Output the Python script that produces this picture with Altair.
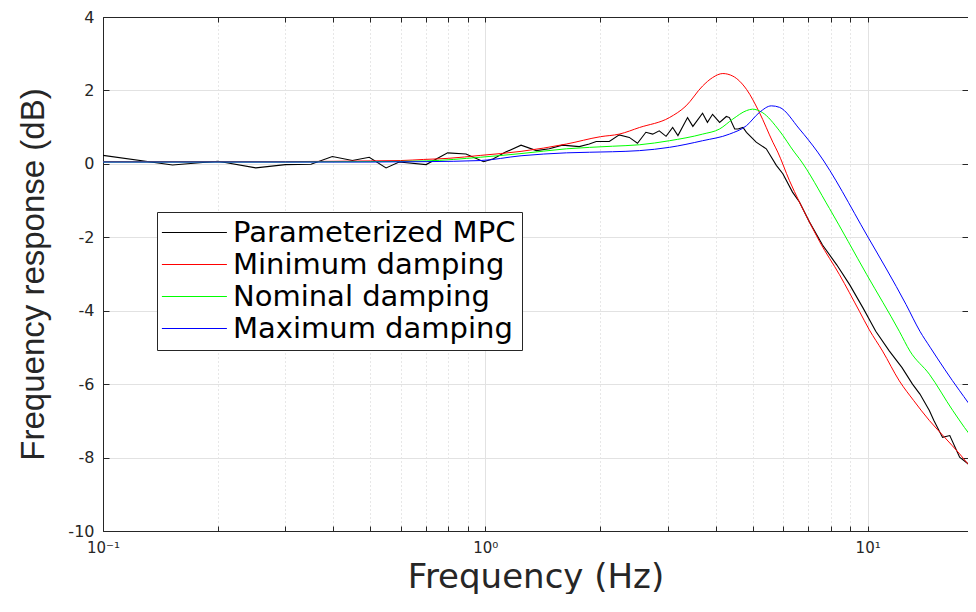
import altair as alt
import pandas as pd

# ---- data ----
series_names = ["Parameterized MPC", "Minimum damping", "Nominal damping", "Maximum damping"]
series_colors = ["#000000", "#ff0000", "#00ff00", "#0000ff"]

f_mpc = [0.1, 0.152, 0.2, 0.251, 0.30, 0.35, 0.398, 0.449, 0.497, 0.55, 0.595, 0.70, 0.797, 0.89,
         0.99, 1.05, 1.13, 1.24, 1.36, 1.47, 1.59, 1.76, 1.87, 1.95, 2.11, 2.24, 2.38, 2.50, 2.63,
         2.74, 2.85, 2.97, 3.09, 3.19, 3.38, 3.49, 3.70, 3.81, 3.93, 4.10, 4.27, 4.35, 4.49, 4.58,
         4.72, 4.82, 5.11, 5.43, 5.77, 6.0, 6.36, 6.63, 7.04, 7.62, 8.30, 8.97, 9.73, 10.5, 11.4,
         12.3, 13.1, 13.7, 14.5, 14.9, 15.7, 16.4, 17.4, 18.3, 19.2, 19.6]
db_mpc = [0.23, -0.03, 0.07, -0.11, -0.02, -0.01, 0.20, 0.09, 0.18, -0.11, 0.05, -0.02, 0.30, 0.27,
          0.06, 0.14, 0.32, 0.51, 0.36, 0.41, 0.51, 0.47, 0.54, 0.61, 0.61, 0.79, 0.72, 0.56, 0.86,
          0.81, 0.90, 0.75, 0.99, 0.77, 1.26, 1.02, 1.38, 1.13, 1.35, 1.13, 1.29, 1.26, 0.95, 0.95,
          0.99, 0.86, 0.59, 0.41, -0.04, -0.27, -0.77, -1.04, -1.58, -2.21, -2.75, -3.29, -3.93,
          -4.56, -5.10, -5.55, -6.00, -6.27, -6.72, -6.99, -7.45, -7.40, -7.99, -8.17, -8.35, -8.45]

f_min = [0.1, 0.2, 0.3, 0.4, 0.5, 0.6, 0.69, 0.8, 0.97, 1.24, 1.63, 2.0, 2.24, 2.53, 3.03, 3.35,
         3.7, 3.93, 4.18, 4.44, 4.82, 5.21, 5.65, 5.82, 6.24, 6.63, 7.04, 7.49, 8.44, 9.52, 10.1,
         10.94, 12.1, 13.2, 14.5, 15.9, 17.4, 19.2, 19.6]
db_min = [0.06, 0.06, 0.06, 0.07, 0.08, 0.09, 0.12, 0.15, 0.23, 0.34, 0.54, 0.74, 0.81, 0.99, 1.26,
          1.58, 2.12, 2.35, 2.46, 2.39, 2.03, 1.40, 0.59, 0.32, -0.45, -1.04, -1.58, -2.12, -3.02,
          -4.02, -4.52, -5.10, -5.91, -6.45, -6.99, -7.45, -7.90, -8.44, -8.55]

f_nom = [0.1, 0.3, 0.5, 0.7, 0.97, 1.24, 1.63, 2.15, 2.53, 3.03, 3.7, 4.1, 4.44, 4.82, 5.0, 5.3,
         5.88, 6.43, 6.63, 7.95, 9.95, 12.1, 12.9, 14.5, 16.7, 19.2, 19.6]
db_nom = [0.05, 0.05, 0.06, 0.08, 0.18, 0.28, 0.41, 0.48, 0.52, 0.63, 0.81, 0.95, 1.22, 1.45, 1.49,
          1.40, 0.90, 0.32, 0.14, -1.22, -3.02, -4.56, -5.10, -5.73, -6.72, -7.58, -7.68]

f_max = [0.1, 0.3, 0.5, 0.7, 0.97, 1.24, 1.63, 2.15, 2.53, 3.03, 3.7, 4.35, 4.82, 5.21, 5.6, 5.88,
         6.63, 7.4, 9.95, 12.6, 13.7, 14.6, 17.4, 19.2, 19.6]
db_max = [0.05, 0.05, 0.05, 0.06, 0.09, 0.22, 0.30, 0.33, 0.36, 0.45, 0.63, 0.81, 1.04, 1.40, 1.58,
          1.54, 0.95, 0.32, -1.94, -3.83, -4.56, -5.01, -6.18, -6.77, -6.87]

y_ticks = [-10, -8, -6, -4, -2, 0, 2, 4]
x_ticks = [0.1, 0.2, 0.3, 0.4, 0.5, 0.6, 0.7, 0.8, 0.9,
           1, 2, 3, 4, 5, 6, 7, 8, 9, 10]
x_major = [0.1, 1, 10]
x_major_labels = ["10⁻¹", "10⁰", "10¹"]

x_title = "Frequency (Hz)"
y_title = "Frequency response (dB)"

# ---- table ----
rows = []
for name, fs, ds in zip(series_names, [f_mpc, f_min, f_nom, f_max], [db_mpc, db_min, db_nom, db_max]):
    for f, d in zip(fs, ds):
        rows.append({"series": name, "freq": f, "db": d})
df = pd.DataFrame(rows)

W, H = 865, 514
AX = "#262626"

label_expr = " : ".join(
    f"datum.value == {v} ? '{t}'" for v, t in zip(x_major, x_major_labels)
) + " : ''"
major_test = "indexof([" + ",".join(str(v) for v in x_major) + "], datum.value) >= 0"

xscale = alt.Scale(type="log", domain=[0.1, 18.3], nice=False)
yscale = alt.Scale(domain=[-10, 4], nice=False, zero=False)

legend = alt.Legend(
    title=None, orient="none", legendX=54, legendY=195, direction="vertical",
    symbolType="M-2.4,0H7.6", symbolSize=169, symbolStrokeWidth=1,
    labelFont="DejaVu Sans", labelFontSize=29, labelColor="#000000", labelOffset=41,
    labelLimit=800, rowPadding=2, padding=6, strokeColor=AX, fillColor="white",
)
color = alt.Color("series:N", scale=alt.Scale(domain=series_names, range=series_colors), legend=legend)

x_axis_main = alt.Axis(
    values=x_ticks, labelExpr=label_expr, labelFont="DejaVu Sans", labelFontSize=15,
    labelColor=AX, labelPadding=21, labelBaseline="alphabetic", labelFlush=False,
    labelOverlap=False, ticks=False, tickSize=0, domain=True, domainColor=AX, domainWidth=1,
    grid=True,
    gridColor={"condition": {"test": major_test, "value": "#e2e2e2"}, "value": "#cfcfcf"},
    gridDash={"condition": {"test": major_test, "value": []}, "value": [1, 3]},
    gridWidth=1,
    title=x_title, titleFont="DejaVu Sans", titleFontSize=34, titleFontWeight="normal",
    titleColor=AX, titleX=W / 2, titleY=56, titleBaseline="alphabetic", titleAlign="center",
)
y_axis_main = alt.Axis(
    values=y_ticks, labelExpr="'' + datum.value", labelFont="DejaVu Sans", labelFontSize=16,
    labelColor=AX, labelPadding=9, ticks=False, tickSize=0, domain=True, domainColor=AX,
    domainWidth=1, grid=True, gridColor="#e2e2e2", gridWidth=1,
    title=y_title, titleFont="Liberation Sans", titleFontSize=33, titleFontWeight="normal",
    titleColor=AX, titleAngle=270, titleX=-60, titleY=H / 2, titleAlign="center",
    titleBaseline="alphabetic",
)

base = alt.Chart(df)

mpc = base.mark_line(strokeWidth=1.1, clip=True).encode(
    x=alt.X("freq:Q", scale=xscale, axis=x_axis_main),
    y=alt.Y("db:Q", scale=yscale, axis=y_axis_main),
    color=color,
).transform_filter(alt.datum.series == series_names[0])

models = base.mark_line(strokeWidth=1, clip=True, interpolate="monotone").encode(
    x=alt.X("freq:Q", scale=xscale, axis=None),
    y=alt.Y("db:Q", scale=yscale, axis=None),
    color=color,
    detail="series:N",
).transform_filter(alt.datum.series != series_names[0])

# inward ticks on bottom/left edges
ticks_bl = base.mark_point(opacity=0).encode(
    x=alt.X("freq:Q", scale=xscale, axis=alt.Axis(
        orient="top", offset=-H, values=x_ticks, labels=False, domain=False, grid=False,
        ticks=True, tickSize=5, tickColor=AX, title=None)),
    y=alt.Y("db:Q", scale=yscale, axis=alt.Axis(
        orient="right", offset=-W, values=y_ticks, labels=False, domain=False, grid=False,
        ticks=True, tickSize=6, tickColor=AX, title=None)),
)
# inward ticks + box on top/right edges
ticks_tr = base.mark_point(opacity=0).encode(
    x=alt.X("freq:Q", scale=xscale, axis=alt.Axis(
        orient="bottom", offset=-H, values=x_ticks, labels=False, domain=True, domainColor=AX,
        grid=False, ticks=True, tickSize=5, tickColor=AX, title=None)),
    y=alt.Y("db:Q", scale=yscale, axis=alt.Axis(
        orient="left", offset=-W, values=y_ticks, labels=False, domain=True, domainColor=AX,
        grid=False, ticks=True, tickSize=6, tickColor=AX, title=None)),
)

chart = alt.layer(mpc, models, ticks_bl, ticks_tr).resolve_axis(
    x="independent", y="independent"
).properties(
    width=W, height=H,
    autosize=alt.AutoSizeParams(type="none"),
    padding={"left": 95, "top": 9, "right": 0, "bottom": 63},
    background="white",
).configure_view(stroke=None)

chart.save("out.html", embed_options={"renderer": "svg", "actions": False})
